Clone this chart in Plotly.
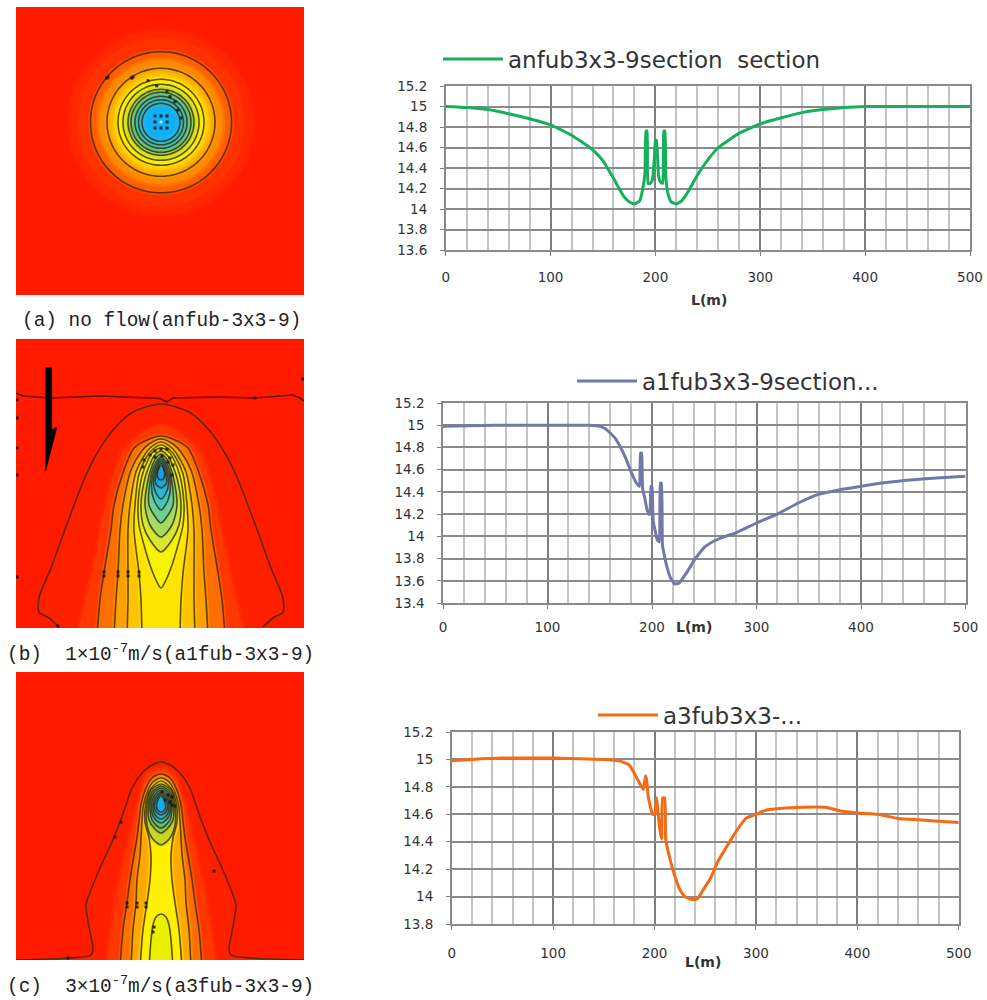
import numpy as np
import plotly.graph_objects as go

# ---------- section curves ----------
L_a = [0,20,40,60,80,100,120,140,150,160,170,175,180,185,188,190,191,192,193,195,197,199,200,201,203,205,207,208,209,210,212,215,220,225,230,240,250,260,280,300,320,340,360,380,400,420,450,500]
H_a = [15.0,14.99,14.97,14.93,14.88,14.82,14.72,14.58,14.47,14.30,14.12,14.07,14.05,14.08,14.2,14.35,14.76,14.76,14.25,14.25,14.28,14.5,14.67,14.67,14.32,14.26,14.25,14.76,14.76,14.3,14.15,14.07,14.05,14.08,14.15,14.33,14.48,14.6,14.74,14.83,14.89,14.94,14.97,14.99,15.0,15.0,15.0,15.0]
L_b = [0,50,100,140,150,155,160,165,170,175,180,185,188,189,190,191,193,195,197,198,199,200,201,203,205,207,208,209,210,212,215,218,222,226,230,235,240,250,260,270,280,300,320,340,360,380,400,420,450,480,500]
H_b = [14.99,15,15,15,14.99,14.97,14.93,14.88,14.8,14.7,14.58,14.48,14.45,14.75,14.75,14.43,14.35,14.25,14.2,14.2,14.45,14.45,14.15,14.05,13.97,13.95,14.48,14.48,13.92,13.82,13.7,13.62,13.57,13.58,13.63,13.7,13.78,13.9,13.96,14.0,14.03,14.12,14.2,14.3,14.38,14.42,14.45,14.48,14.51,14.53,14.54]
L_c = [0,20,50,100,150,165,175,180,185,189,191,192,194,198,200,202,203,205,207,208,210,211,215,220,225,230,236,242,248,255,262,270,280,290,300,310,320,340,370,380,400,420,440,460,480,500]
H_c = [14.99,15,15.01,15.01,15.0,14.99,14.96,14.9,14.83,14.78,14.88,14.86,14.72,14.6,14.6,14.72,14.65,14.5,14.42,14.72,14.72,14.42,14.28,14.15,14.05,14.0,13.98,13.98,14.05,14.13,14.25,14.35,14.47,14.57,14.6,14.63,14.64,14.65,14.65,14.63,14.61,14.6,14.57,14.56,14.55,14.54]

names = ["anfub3x3-9section\u00a0\u00a0section", "a1fub3x3-9section...", "a3fub3x3-..."]
line_colors = ["#14b05a", "#7278a8", "#f56a14"]
x_ticks = [0,100,200,300,400,500]
y_ticks_a = [13.6,13.8,14,14.2,14.4,14.6,14.8,15,15.2]
y_ticks_b = [13.4,13.6,13.8,14,14.2,14.4,14.6,14.8,15,15.2]
y_ticks_c = [13.8,14,14.2,14.4,14.6,14.8,15,15.2]

captions = ["(a) no flow(anfub-3x3-9)", "(b)\u00a0\u00a01×10<sup>-7</sup>m/s(a1fub-3x3-9)", "(c)\u00a0\u00a03×10<sup>-7</sup>m/s(a3fub-3x3-9)"]

# ---------- contour map outlines (image px; y, half-width about the well line) ----------
FIELD_RED = "#ff1a00"
rings_a_r = [93,83,70.5,62,54,48,43,38,33,30,26,22.5,19,15]
rings_a_c = ["#ff2600","#ff3200","#ff6000","#ff8a00","#ffa800","#ffcc00","#fff000","#e4e810","#a8d840","#70c878","#48c0a0","#30c0c8","#20b8e0","#10b0f8"]
rings_a_black = [70.5,54,43,38,33,30,26,22.5,19]
dots_a_x = [106.7,108,131.7,133,148,156.7,167,170,175,178,180.7,155,155,155,161,161,167,167,167]
dots_a_y = [78,77,78,77,80.7,85.7,91.7,96.7,101.7,110,118,116,122,128,116,128,116,122,128]

b_out_y=[404,412,430,455,482,508,535,568,598,612,618,627]; b_out_h=[0,28,48,65,78,88,98,110,122,122,112,102]
b_1a_y=[426,435,455,505,570,636]; b_1a_h=[0,22,40,55,68,84]
b1_y=[436,440,448,470,505,530,573,600,636]; b1_h=[0,14,27,37,47,50,57,61,64]
b2_y=[439,444,452,470,505,530,573,600,636]; b2_h=[0,12,20,30,38,41,43,45,47]
b3_y=[442,448,456,472,505,530,573,600,636]; b3_h=[0,11,17,25,31,33,33,33,34]
b4_y=[445,450,458,474,505,530,573,600,636]; b4_h=[0,9,15,22,26,27,22,20,19]
b5_y=[448,452,460,476,505,525,545,565,580,588]; b5_h=[0,8,13,19,23,22,17,11,5,0]
b6_y=[451,456,464,478,505,525,540,552]; b6_h=[0,7,11,16,20,18,11,0]
b7_y=[454,458,466,480,505,525,537]; b7_h=[0,5,9,13,16,11,0]
b8_y=[457,466,482,505,515,523]; b8_h=[0,7,11,12,7,0]
b9_y=[459,468,484,500,510]; b9_h=[0,6,9.5,7,0]
b10_y=[461,470,484,493,499]; b10_h=[0,5,7.5,5,0]
b11_y=[463,472,483,488]; b11_h=[0,4,5.5,0]
b12_y=[465,472,478,480]; b12_h=[0,3.5,3,0]
bands_b = [(b_out_y,b_out_h,"#ff2000",1),(b_1a_y,b_1a_h,"#ff3800",0),(b1_y,b1_h,"#ff6e00",1),(b2_y,b2_h,"#ffa000",1),
           (b3_y,b3_h,"#ffc400",1),(b4_y,b4_h,"#ffe400",1),(b5_y,b5_h,"#f8f400",1),(b6_y,b6_h,"#d8e830",1),(b7_y,b7_h,"#a8dc60",1),
           (b8_y,b8_h,"#70d090",1),(b9_y,b9_h,"#40c8c0",1),(b10_y,b10_h,"#28b8d8",1),(b11_y,b11_h,"#1ca8e0",1),(b12_y,b12_h,"#18a0e8",1)]
b_top_x=[16,23,50,100,150,160,167,173,217,255,293,300,304]
b_top_y=[393,396,398,396,398,398.5,402,398,397,398,395,398,401]
arrow_poly_x=[45.7,51.7,51.7,57,45.7,45.7]
arrow_poly_y=[367.7,367.7,430,427,471,367.7]
dots_b_x=[150,155,161,167,144,143,170,173,172,155,162,168,104,104,118,118,128,128,139,139,17,17,17,17,17,255,58,303]
dots_b_y=[455,451,449,449,460,467,458,465,475,457,456,462,572,576,572,576,572,576,572,576,400,418,448,475,577,398,626,379]

c_out_y=[762,765,772,788,805,822,842,868,895,905,932,948,955,958,960]; c_out_h=[0,9,18,29,35,41,49,61,72,75,71,68,70,90,145]
c_1a_y=[768,775,800,840,900,968]; c_1a_h=[0,14,22,32,45,55]
c1_y=[774,778,788,805,822,838,855,880,903,930,968]; c1_h=[0,9,15,20,22,24,27,31,34,38,41]
c2_y=[778,782,790,805,822,838,855,880,903,930,968]; c2_h=[0,8,13,17.5,19,20,21,24,25,28,30]
c3_y=[781,785,792,805,822,838,855,880,903,930,968]; c3_h=[0,7,12,15.5,16,12,10,11,14,18,21]
c4_y=[914,917,925,940,968]; c4_h=[0,5,8,10,12]
c5_y=[784,790,805,825,838,845]; c5_h=[0,10,14,14,9,0]
c6_y=[786,792,805,820,829,833]; c6_h=[0,9,12.5,12,6,0]
c7_y=[788,794,805,820,828]; c7_h=[0,8,11,9,0]
c8_y=[790,796,806,817,823]; c8_h=[0,7,9.5,7.5,0]
c9_y=[792,798,806,815,819]; c9_h=[0,6,8,6,0]
c10_y=[794,800,806,812,815]; c10_h=[0,5,6.5,5,0]
c11_y=[796,801,806,810,812]; c11_h=[0,3.5,4.5,3.5,0]
bands_c = [(c_out_y,c_out_h,"#ff2000",1),(c_1a_y,c_1a_h,"#ff3800",0),(c1_y,c1_h,"#ff7000",1),(c2_y,c2_h,"#ffa800",1),(c3_y,c3_h,"#fff000",1),
           (c4_y,c4_h,"#e8f000",1),(c5_y,c5_h,"#c8d820",1),(c6_y,c6_h,"#90c840",1),(c7_y,c7_h,"#60c080",1),(c8_y,c8_h,"#40c0b0",1),
           (c9_y,c9_h,"#30b8d0",1),(c10_y,c10_h,"#20a8e0",1),(c11_y,c11_h,"#10b0f0",1)]
dots_c_x=[162,168,172,170,172,165,175,121,115,214,154,153,127,127,137,137,146,146,68]
dots_c_y=[792,795,797,802,805,800,806,822,837,871,927,932,903,907,903,907,903,907,958]

PANELS = [(16,304,7,295),(16,304,339,628),(16,304,672,960)]
CHARTS = [(445.7,970,86,250),(443,965.5,403,603),(451.7,958.8,732,924)]
X_STANDOFF = [10,7,12]
W,H = 987,1000
fig = go.Figure()

def soft(c,a=0.45):
    r,g,b = int(c[1:3],16),int(c[3:5],16),int(c[5:7],16)
    return f"rgba({r},{g},{b},{a})"

def poly(ax, xs, ys, color):
    fig.add_trace(go.Scatter(x=xs,y=ys,mode="lines",xaxis="x"+ax,yaxis="y"+ax,fill="toself",fillcolor=color,
        line=dict(color=soft(color),width=5,shape="spline",smoothing=0.8),showlegend=False,hoverinfo="skip"))

def contour(ax, xs, ys, width=1.6, col="rgba(60,40,5,0.8)", spline=True):
    fig.add_trace(go.Scatter(x=xs,y=ys,mode="lines",xaxis="x"+ax,yaxis="y"+ax,
        line=dict(color=col,width=width,shape="spline" if spline else "linear",smoothing=0.8),showlegend=False,hoverinfo="skip"))

def dots(ax, xs, ys, size=3):
    fig.add_trace(go.Scatter(x=xs,y=ys,mode="markers",xaxis="x"+ax,yaxis="y"+ax,
        marker=dict(color="rgba(25,20,10,0.85)",size=size,symbol="square"),showlegend=False,hoverinfo="skip"))

def mirror(ys,hs,cx=161):
    xs = [cx-h for h in hs[::-1]] + [cx+h for h in hs[1:]]
    yy = list(ys[::-1]) + list(ys[1:])
    return xs,yy

def background(ax,p):
    fig.add_trace(go.Scatter(x=[p[0],p[1],p[1],p[0],p[0]],y=[p[2],p[2],p[3],p[3],p[2]],mode="lines",xaxis="x"+ax,yaxis="y"+ax,
        fill="toself",fillcolor=FIELD_RED,line=dict(color=FIELD_RED,width=0),showlegend=False,hoverinfo="skip"))

# Panel a
background("",PANELS[0])
th = np.linspace(0,2*np.pi,73)
for r,c in zip(rings_a_r,rings_a_c):
    poly("",list(161+r*np.cos(th)),list(122.3+r*np.sin(th)),c)
for r in rings_a_black:
    contour("",list(161+r*np.cos(th)),list(122.3+r*np.sin(th)))
dots("",dots_a_x,dots_a_y)
fig.add_trace(go.Scatter(x=[161],y=[122],mode="markers",marker=dict(color="#b0f0f0",size=3),showlegend=False,hoverinfo="skip"))

# Panel b
background("2",PANELS[1])
for y,h,c,k in bands_b:
    xs,yy = mirror(y,h); poly("2",xs,yy,c)
for y,h,c,k in bands_b:
    if k:
        xs,yy = mirror(y,h); contour("2",xs,yy)
contour("2",b_top_x,b_top_y,spline=False,col="rgba(90,10,0,0.9)")
dots("2",dots_b_x,dots_b_y)
fig.add_trace(go.Scatter(x=arrow_poly_x,y=arrow_poly_y,mode="lines",xaxis="x2",yaxis="y2",fill="toself",fillcolor="#000000",
    line=dict(color="#000000",width=0.5),showlegend=False,hoverinfo="skip"))

# Panel c
background("3",PANELS[2])
for y,h,c,k in bands_c:
    xs,yy = mirror(y,h); poly("3",xs,yy,c)
for y,h,c,k in bands_c:
    if k:
        xs,yy = mirror(y,h); contour("3",xs,yy)
dots("3",dots_c_x,dots_c_y)

# Section charts
series = [(L_a,H_a),(L_b,H_b),(L_c,H_c)]
for i,(xv,yv) in enumerate(series):
    n = str(i+4)
    fig.add_trace(go.Scatter(x=xv,y=yv,mode="lines",name=names[i],xaxis="x"+n,yaxis="y"+n,
        line=dict(color=line_colors[i],width=3,shape="spline",smoothing=0.4),legend="legend" if i==0 else f"legend{i+1}",hoverinfo="skip"))

layout = dict(width=W,height=H,margin=dict(l=0,r=0,t=0,b=0,autoexpand=False),paper_bgcolor="white",plot_bgcolor="white",showlegend=True)
def dom_x(a,b): return [a/W,b/W]
def dom_y(t,b): return [1-b/H,1-t/H]
for i,p in enumerate(PANELS):
    s = "" if i==0 else str(i+1)
    layout["xaxis"+s] = dict(domain=dom_x(p[0],p[1]),range=[p[0],p[1]],visible=False,anchor="y"+s)
    layout["yaxis"+s] = dict(domain=dom_y(p[2],p[3]),range=[p[3],p[2]],visible=False,anchor="x"+s)
yt = [y_ticks_a,y_ticks_b,y_ticks_c]
font_ticks = dict(family="DejaVu Sans",size=13.5,color="#333333")
for i,c in enumerate(CHARTS):
    s = str(i+4)
    layout["xaxis"+s] = dict(domain=dom_x(c[0],c[1]),range=[0,500],anchor="y"+s,tickvals=x_ticks,ticks="outside",ticklen=4,tickcolor="#808080",
        tickfont=font_ticks,showgrid=True,gridcolor="#7e7e7e",gridwidth=1.5,zeroline=False,showline=True,linecolor="#8a8a8a",linewidth=1.5,mirror=True,
        minor=dict(dtick=20,showgrid=True,gridcolor="#c4c4c4",gridwidth=1.5,ticks=""),ticklabelstandoff=X_STANDOFF[i])
    layout["yaxis"+s] = dict(domain=dom_y(c[2],c[3]),range=[yt[i][0],yt[i][-1]],anchor="x"+s,tickvals=yt[i],ticktext=[f"{v:g}" for v in yt[i]],
        ticks="outside",ticklen=4,tickcolor="#808080",tickfont=font_ticks,showgrid=True,gridcolor="#8a8a8a",gridwidth=1.5,zeroline=False,
        showline=True,linecolor="#8a8a8a",linewidth=1.5,mirror=True,ticklabelstandoff=10)

leg_pos = [(438,59),(572,381),(593,715)]
for i,(lx,ly) in enumerate(leg_pos):
    key = "legend" if i==0 else f"legend{i+1}"
    layout[key] = dict(x=lx/W,y=1-ly/H,xanchor="left",yanchor="middle",bgcolor="rgba(0,0,0,0)",itemwidth=60,
        font=dict(family="DejaVu Sans",size=23,color="#333333"),tracegroupgap=0)

ann = []
cap_pos = [(161,321),(160,653),(160,985)]
for t,(cx,cy) in zip(captions,cap_pos):
    ann.append(dict(text=t,x=cx/W,y=1-cy/H,xref="paper",yref="paper",showarrow=False,xanchor="center",yanchor="middle",
        font=dict(family="Liberation Mono",size=19.4,color="#222222")))
for (lx,ly) in [(709,300),(694,627),(703,962)]:
    ann.append(dict(text="<b>L(m)</b>",x=lx/W,y=1-ly/H,xref="paper",yref="paper",showarrow=False,xanchor="center",yanchor="middle",
        font=dict(family="DejaVu Sans",size=14,color="#333333")))
layout["annotations"] = ann
fig.update_layout(**layout)
fig.write_html("out.html", post_script="document.body.style.margin='0';", config={"displayModeBar": False})
